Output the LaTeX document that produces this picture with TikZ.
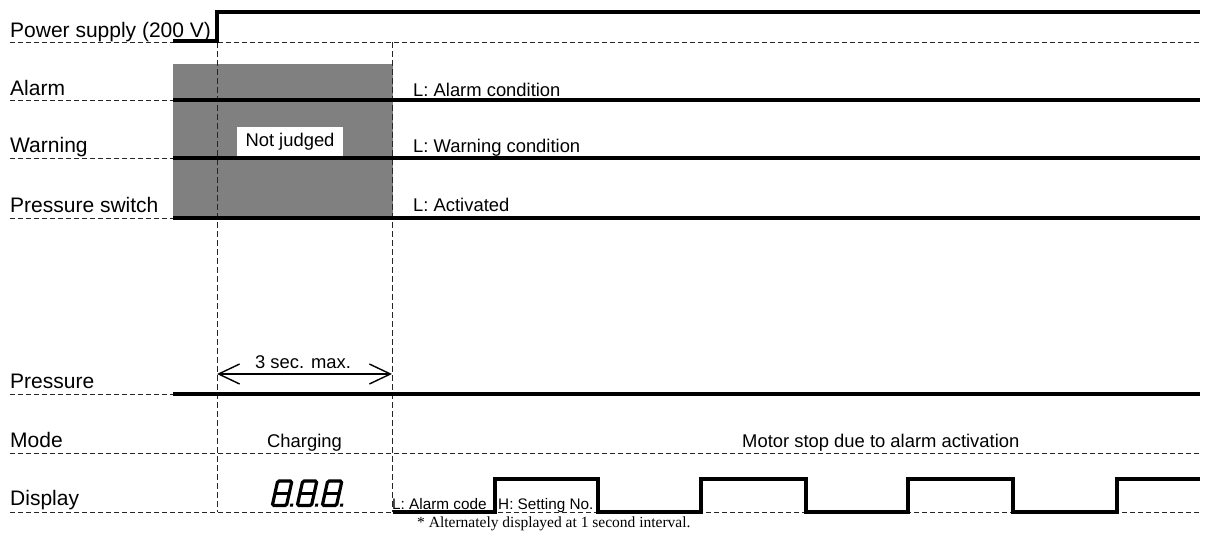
\documentclass[tikz,border=0pt]{standalone}
\usepackage{fontspec}
\setmainfont{Liberation Sans}
\newfontfamily\notefont{Liberation Serif}
\usetikzlibrary{arrows.meta}

\begin{document}
\begin{tikzpicture}[x=1pt, y=-1pt,
  sig/.style={line width=3.2pt, line join=miter, line cap=butt},
  guide/.style={line width=0.9pt, black!85, dash pattern=on 5pt off 3pt},
  vguide/.style={line width=0.9pt, black!85, dash pattern=on 6pt off 3pt},
  rowlabel/.style={anchor=base west, inner sep=0pt, font=\fontsize{21}{24}\selectfont},
  statelabel/.style={anchor=base west, inner sep=0pt, font=\fontsize{18.4}{22}\selectfont},
  smalllabel/.style={anchor=base west, inner sep=0pt, font=\fontsize{15.3}{18}\selectfont},
  seg/.style={line width=3.2pt, rounded corners=1.5pt},
]
\useasboundingbox (0,0) rectangle (1209,540);

% time markers
\coordinate (t1top) at (217,42);
\coordinate (t1bot) at (217,512);
\coordinate (t2top) at (392,42);
\coordinate (t2bot) at (392,512);

% undetermined region
\fill[fill={rgb,255:red,128;green,128;blue,128}] (173,64) rectangle (393,218);

% row guide lines
\draw[guide] (10,42) -- (1201,42);
\draw[guide] (10,100) -- (173,100);
\draw[guide] (10,158) -- (173,158);
\draw[guide] (10,218) -- (173,218);
\draw[guide] (10,394) -- (173,394);
\draw[guide] (10,453) -- (1201,453);
\draw[guide] (10,512) -- (1201,512);

% vertical time guides
\draw[vguide] (t1top) -- (t1bot);
\draw[vguide] (t2top) -- (t2bot);

% signal traces
\draw[sig] (173,41) -- (217,41) -- (217,12) -- (1200,12);
\draw[sig] (173,100) -- (1200,100);
\draw[sig] (173,158) -- (1200,158);
\draw[sig] (173,218) -- (1200,218);
\draw[sig] (173,394) -- (1200,394);
\draw[sig] (393,512) -- (495,512) -- (495,479) -- (598,479) -- (598,512)
  -- (701,512) -- (701,479) -- (806,479) -- (806,512)
  -- (908,512) -- (908,479) -- (1013,479) -- (1013,512)
  -- (1117,512) -- (1117,479) -- (1200,479);

% row labels
\node[rowlabel] (lpow) at (10,37.5) {Power supply (200 V)};
\node[rowlabel] (lalm) at (10,95.5) {Alarm};
\node[rowlabel] (lwrn) at (10,153) {Warning};
\node[rowlabel] (lpsw) at (10,212) {Pressure switch};
\node[rowlabel] (lprs) at (10,388) {Pressure};
\node[rowlabel] (lmod) at (10,447) {Mode};
\node[rowlabel] (ldsp) at (10,505.5) {Display};

% state labels
\node[fill=white, inner sep=0pt, minimum width=106pt, minimum height=29pt,
  text height=13.4pt, text depth=3.9pt, font=\fontsize{18.4}{22}\selectfont]
  (notj) at (290,141.5) {Not judged};
\node[statelabel] (salm) at (413,96.5) {L: Alarm condition};
\node[statelabel] (swrn) at (413,153) {L: Warning condition};
\node[statelabel] (sact) at (413,211.5) {L: Activated};
\node[statelabel, anchor=base] (schg) at (304.5,447) {Charging};
\node[statelabel] (sstop) at (742,447) {Motor stop due to alarm activation};
\node[smalllabel] (scode) at (392,509) {L: Alarm code};
\node[smalllabel] (sset) at (498,509) {H: Setting No.};

% charging time
\draw[line width=1.6pt,
  {Straight Barb[length=21pt,width=20pt,line width=1.4pt]}-{Straight Barb[length=21pt,width=20pt,line width=1.4pt]}]
  (217,374) -- (392,374);
\node[statelabel, anchor=base] (tmax) at (303,368) {3 sec. max.};

% seven-segment display test pattern
\foreach \dx in {272,297,322} {
  \begin{scope}[shift={(\dx,505.5)}, xslant=0.22]
    \draw[seg] (0.3,0) rectangle (14.5,-24.5);
    \draw[line width=3pt] (0.3,-12.3) -- (14.5,-12.3);
    \fill (18,1.2) rectangle (21,-1.8);
  \end{scope}
}

% footnote
\node[anchor=base west, inner sep=0pt, font=\notefont\fontsize{15.5}{18}\selectfont]
  (note) at (417,527.5) {* Alternately displayed at 1 second interval.};
\end{tikzpicture}
\end{document}
